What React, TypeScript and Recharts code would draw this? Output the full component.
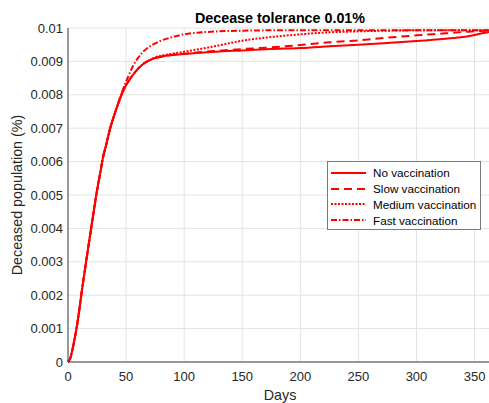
import { LineChart, Line, XAxis, YAxis, CartesianGrid, Legend } from "recharts";

const days = [
  0, 2, 4, 6, 8, 10, 12, 14, 16, 18, 20, 22, 24, 26, 28, 30, 33, 36, 40, 44, 48, 52, 56, 60, 65, 70, 75,
  80, 90, 100, 115, 130, 150, 175, 200, 225, 250, 275, 300, 325, 340, 350, 358, 365,
];

const noVaccination = [
  0, 0.00012, 0.0004, 0.00075, 0.00115, 0.00163, 0.00215, 0.00263, 0.0031, 0.00356, 0.00402, 0.00447,
  0.00493, 0.00533, 0.00571, 0.0061, 0.00652, 0.00696, 0.00741, 0.00781, 0.00816, 0.0084, 0.0086,
  0.00877, 0.00893, 0.00903, 0.0091, 0.00914, 0.00919, 0.00922, 0.00926, 0.0093, 0.00933, 0.00937,
  0.0094, 0.00945, 0.0095, 0.00955, 0.00961, 0.00968, 0.00973, 0.00979, 0.00985, 0.0099,
];

const slowVaccination = [
  0, 0.00012, 0.0004, 0.00075, 0.00115, 0.00163, 0.00215, 0.00263, 0.0031, 0.00356, 0.00402, 0.00447,
  0.00493, 0.00533, 0.00571, 0.0061, 0.00652, 0.00696, 0.00741, 0.00781, 0.00816, 0.0084, 0.0086,
  0.00877, 0.00893, 0.00903, 0.0091, 0.00914, 0.0092, 0.00923, 0.00928, 0.00932, 0.00937, 0.00942,
  0.00949, 0.00957, 0.00963, 0.00971, 0.00978, 0.00984, 0.00988, 0.0099, 0.00992, 0.00993,
];

const mediumVaccination = [
  0, 0.00012, 0.0004, 0.00075, 0.00115, 0.00163, 0.00215, 0.00263, 0.0031, 0.00356, 0.00402, 0.00447,
  0.00493, 0.00533, 0.00571, 0.0061, 0.00652, 0.00696, 0.00741, 0.00781, 0.00816, 0.0084, 0.0086,
  0.00877, 0.00893, 0.00903, 0.00912, 0.00917, 0.00923, 0.00929, 0.00938, 0.00948, 0.00962, 0.00973,
  0.00981, 0.00987, 0.0099, 0.00992, 0.00993, 0.00993, 0.00993, 0.00993, 0.00993, 0.00993,
];

const fastVaccination = [
  0, 0.00012, 0.0004, 0.00075, 0.00115, 0.00163, 0.00215, 0.00263, 0.0031, 0.00356, 0.00402, 0.00447,
  0.00493, 0.00533, 0.00571, 0.0061, 0.00652, 0.00696, 0.00741, 0.00784, 0.00822, 0.00856, 0.00886,
  0.00909, 0.0093, 0.00944, 0.00954, 0.00962, 0.00973, 0.00981, 0.00987, 0.0099, 0.00992, 0.00993,
  0.00993, 0.00993, 0.00993, 0.00993, 0.00993, 0.00993, 0.00993, 0.00993, 0.00993, 0.00993,
];

const xTicks = [0, 50, 100, 150, 200, 250, 300, 350];
const yTicks = [0, 0.001, 0.002, 0.003, 0.004, 0.005, 0.006, 0.007, 0.008, 0.009, 0.01];

const series = [
  { key: "none", name: "No vaccination", dash: undefined as string | undefined },
  { key: "slow", name: "Slow vaccination", dash: "8 5" },
  { key: "medium", name: "Medium vaccination", dash: "2 1.5" },
  { key: "fast", name: "Fast vaccination", dash: "6 2 1.5 2" },
];

const data = days.map((day, i) => ({
  day,
  none: noVaccination[i],
  slow: slowVaccination[i],
  medium: mediumVaccination[i],
  fast: fastVaccination[i],
}));

const FONT = '"Liberation Sans", Arial, Helvetica, sans-serif';
const RED = "#ff0000";
const AXIS = "#404040";

function LegendBox() {
  return (
    <div
      style={{
        width: 152,
        height: 64,
        paddingTop: 3,
        border: "1px solid #7a7a7a",
        background: "#fff",
        fontFamily: FONT,
        fontSize: 11.7,
        color: "#000",
        boxSizing: "content-box",
      }}
    >
      {series.map((s) => (
        <div key={s.key} style={{ height: 15.75, display: "flex", alignItems: "center" }}>
          <svg width={42} height={10} style={{ marginLeft: 3, flexShrink: 0 }}>
            <line x1={0} x2={35} y1={5} y2={5} stroke={RED} strokeWidth={2} strokeDasharray={s.dash} />
          </svg>
          <span>{s.name}</span>
        </div>
      ))}
    </div>
  );
}

export default function App() {
  return (
    <div style={{ position: "absolute", left: 0, top: 0, width: 489, height: 403, overflow: "hidden", background: "#fff" }}>
      <div
        style={{
          position: "absolute",
          left: 68,
          top: 10,
          width: 424,
          textAlign: "center",
          fontFamily: FONT,
          fontWeight: "bold",
          fontSize: 14.3,
          lineHeight: "16px",
          color: "#000",
          zIndex: 2,
        }}
      >
        Decease tolerance 0.01%
      </div>
      <LineChart width={492} height={403} data={data} margin={{ top: 28, right: 0, bottom: 0, left: 0 }}>
        <CartesianGrid stroke="#e3e3e3" />
        <XAxis
          dataKey="day"
          type="number"
          domain={[0, 365]}
          ticks={xTicks}
          height={41}
          axisLine={{ stroke: AXIS }}
          tickLine={false}
          tickSize={6}
          tickMargin={4}
          tick={{ fill: "#262626", fontSize: 13, fontFamily: FONT }}
          label={{ value: "Days", position: "insideBottom", offset: 3, fill: "#262626", fontSize: 14.3, fontFamily: FONT }}
        />
        <YAxis
          type="number"
          domain={[0, 0.01]}
          ticks={yTicks}
          width={68}
          axisLine={{ stroke: AXIS }}
          tickLine={false}
          tickSize={3}
          tickMargin={2}
          tick={{ fill: "#262626", fontSize: 13, fontFamily: FONT }}
          tickFormatter={(v: number) => String(v)}
          label={{
            value: "Deceased population (%)",
            angle: -90,
            position: "insideLeft",
            offset: 17,
            fill: "#262626",
            fontSize: 14.3,
            fontFamily: FONT,
            style: { textAnchor: "middle" },
          }}
        />
        <Legend
          layout="vertical"
          align="center"
          verticalAlign="middle"
          content={() => <LegendBox />}
          wrapperStyle={{ left: 327, top: 161, width: "auto" }}
        />
        {series.map((s) => (
          <Line
            key={s.key}
            dataKey={s.key}
            name={s.name}
            type="monotone"
            stroke={RED}
            strokeWidth={2}
            strokeDasharray={s.dash}
            dot={false}
            activeDot={false}
            isAnimationActive={false}
          />
        ))}
      </LineChart>
    </div>
  );
}
